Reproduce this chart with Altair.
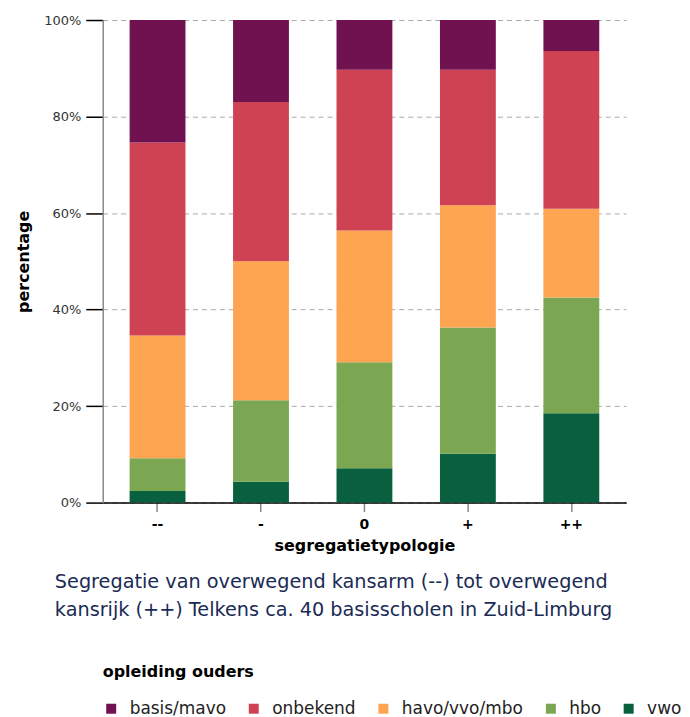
import altair as alt
import pandas as pd

categories = ["--", "-", "0", "+", "++"]
levels = ["basis/mavo", "onbekend", "havo/vvo/mbo", "hbo", "vwo"]
colors = ["#70124f", "#cf4254", "#fea552", "#7ba652", "#08603f"]

# percentages per segregation type (bottom to top: vwo, hbo, havo, onbekend, basis)
vwo = [2.4, 4.3, 7.1, 10.1, 18.5]
hbo = [6.8, 16.9, 22.0, 26.2, 24.0]
havo = [25.4, 28.8, 27.3, 25.3, 18.4]
onbekend = [40.0, 33.0, 33.3, 28.1, 32.7]
basis = [25.4, 17.0, 10.3, 10.3, 6.4]

caption_lines = [
    "Segregatie van overwegend kansarm (--) tot overwegend",
    "kansrijk (++) Telkens ca. 40 basisscholen in Zuid-Limburg",
]

series = {
    "vwo": vwo,
    "hbo": hbo,
    "havo/vvo/mbo": havo,
    "onbekend": onbekend,
    "basis/mavo": basis,
}
stack_rank = {"vwo": 0, "hbo": 1, "havo/vvo/mbo": 2, "onbekend": 3, "basis/mavo": 4}

rows = []
for name, vals in series.items():
    for cat, v in zip(categories, vals):
        rows.append({"segregatie": cat, "opleiding": name, "pct": v, "rank": stack_rank[name]})
df = pd.DataFrame(rows)

FONT = "DejaVu Sans"

bars = alt.Chart(df).mark_bar().encode(
    x=alt.X(
        "segregatie:N",
        sort=categories,
        scale=alt.Scale(paddingInner=0.46, paddingOuter=0.26),
        axis=alt.Axis(
            title="segregatietypologie",
            labelAngle=0,
            grid=False,
            domainColor="#000000",
            domainWidth=1.5,
            tickColor="#888888",
            tickSize=9,
            tickWidth=1.5,
            labelFontSize=14,
            labelFontWeight="bold",
            labelColor="#000000",
            labelPadding=6,
            titleFontSize=16,
            titleFontWeight="bold",
            titleColor="#000000",
            titlePadding=6,
        ),
    ),
    y=alt.Y(
        "pct:Q",
        stack="normalize",
        axis=alt.Axis(
            title="percentage",
            format=".0%",
            values=[0, 0.2, 0.4, 0.6, 0.8, 1.0],
            grid=True,
            gridColor="#aaaaaa",
            gridDash=[5, 4],
            domainColor="#888888",
            domainWidth=1.5,
            tickColor="#000000",
            tickSize=17,
            tickWidth=1.5,
            labelFontSize=13,
            labelColor="#333333",
            labelPadding=5,
            titleFontSize=16,
            titleFontWeight="bold",
            titleColor="#000000",
            titlePadding=12,
        ),
    ),
    color=alt.Color(
        "opleiding:N",
        scale=alt.Scale(domain=levels, range=colors),
        legend=alt.Legend(
            title="opleiding ouders",
            orient="bottom",
            direction="horizontal",
            titleAnchor="start",
            titleFontSize=16,
            titleFontWeight="bold",
            titleColor="#000000",
            titlePadding=20,
            labelFontSize=17,
            labelColor="#222222",
            symbolType="square",
            symbolSize=100,
            symbolStrokeWidth=0,
            columnPadding=19,
            labelOffset=10,
            offset=111,
        ),
    ),
    order=alt.Order("rank:Q", sort="ascending"),
)

cap_df = pd.DataFrame({"caption": ["\n".join(caption_lines)]})
caption = alt.Chart(cap_df).mark_text(
    align="left",
    baseline="top",
    fontSize=19.3,
    color="#1a2b55",
    lineHeight=28,
    lineBreak="\n",
    font=FONT,
).encode(
    x=alt.value(-48),
    y=alt.value(555),
    text="caption:N",
)

chart = alt.layer(bars, caption).properties(
    width=525,
    height=484,
    padding={"left": 7, "top": 5, "right": 0, "bottom": 0},
).configure(
    font=FONT,
).configure_view(
    stroke=None,
)

chart.save("out.html", embed_options={"renderer": "svg", "actions": False})
